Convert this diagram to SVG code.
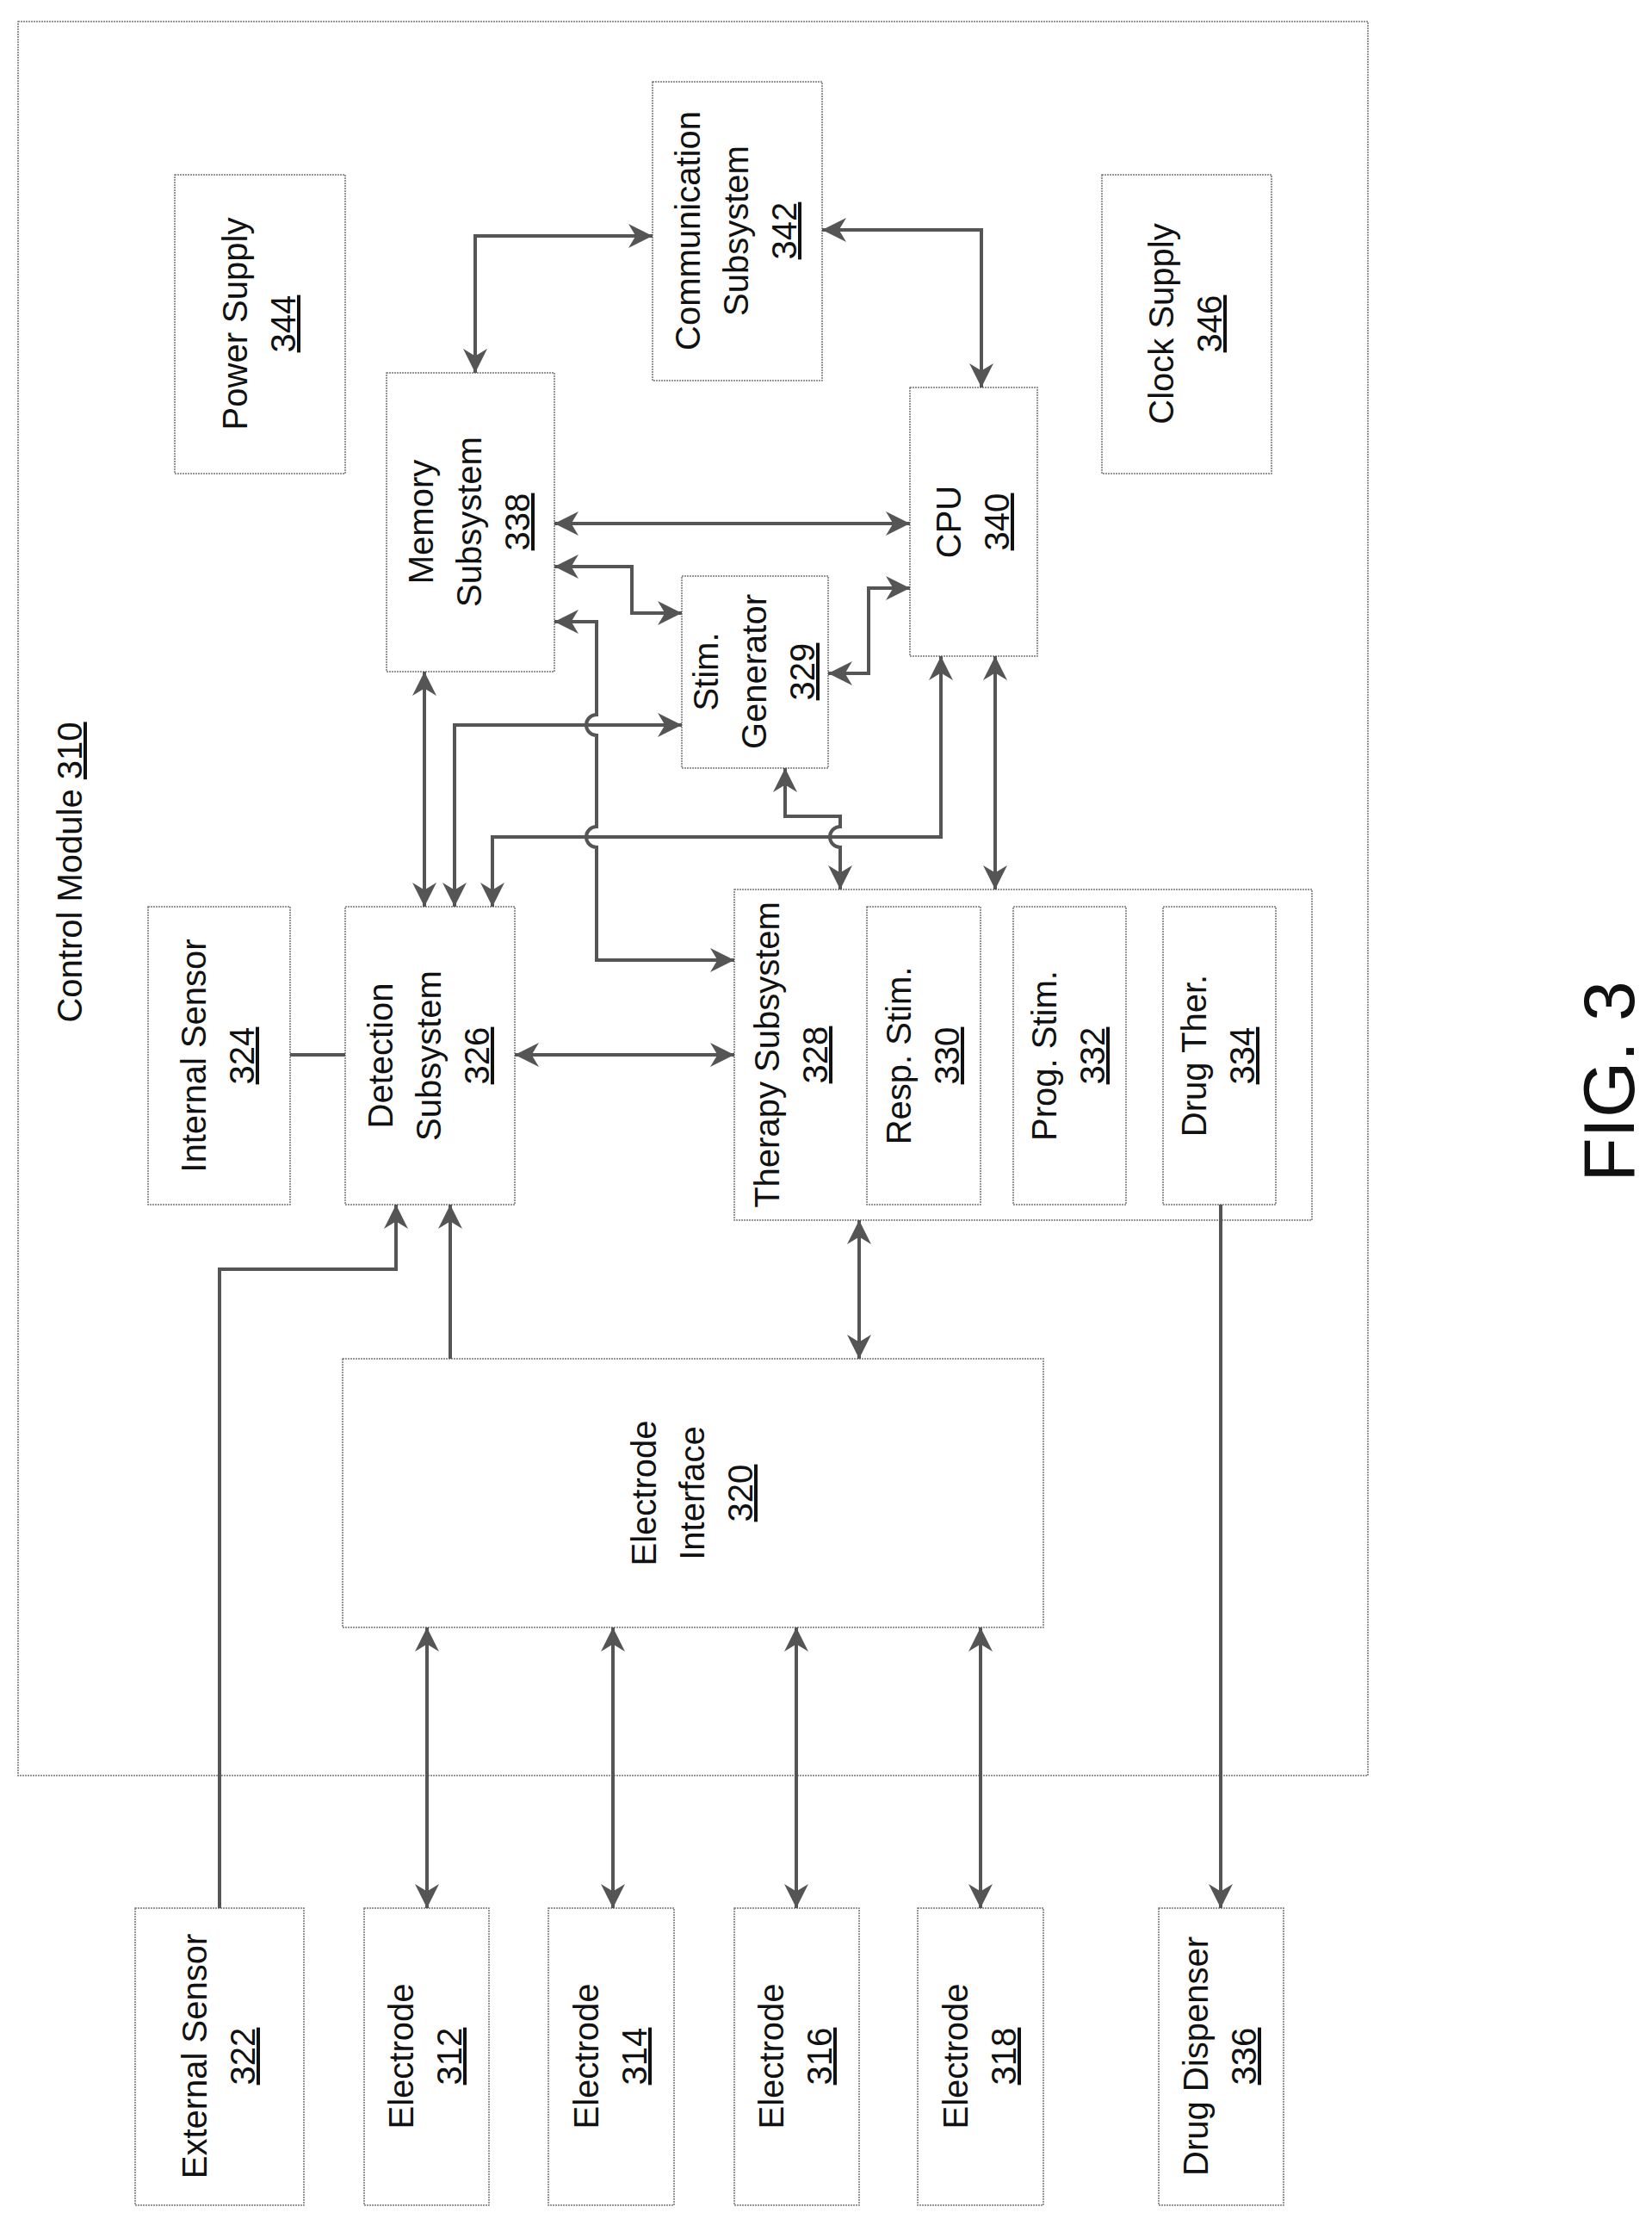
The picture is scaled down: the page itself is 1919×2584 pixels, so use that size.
<svg xmlns="http://www.w3.org/2000/svg" width="1919" height="2584" viewBox="0 0 1919 2584">
<style>
.b{fill:#fff;stroke:#777;stroke-width:1.5;stroke-dasharray:2 1}
.t{font-family:"Liberation Sans",Arial,sans-serif;font-size:40px;fill:#111;text-anchor:middle}
.u{text-decoration:underline}
.c{fill:none;stroke:#555;stroke-width:4}
.a{marker-end:url(#ah)}
.d{marker-start:url(#ah);marker-end:url(#ah)}
</style>
<defs>
<marker id="ah" viewBox="0 0 10 10" refX="10" refY="5" markerWidth="7" markerHeight="7" markerUnits="strokeWidth" orient="auto-start-reverse">
<path d="M0,0 L10,5 L0,10 L3,5 z" fill="#555"/>
</marker>
</defs>
<rect width="1919" height="2584" fill="#fff"/>
<g id="control-module">
<rect class="b" x="21" y="25" width="1568" height="2037"/>
<text class="t" transform="translate(95,1013) rotate(-90)">Control Module <tspan class="u">310</tspan></text>
</g>
<g id="power-supply"><rect class="b" x="203" y="203" width="198" height="347"/>
<text class="t" transform="translate(302,376) rotate(-90)"><tspan x="0" y="-15">Power Supply</tspan><tspan x="0" y="41" class="u">344</tspan></text></g>
<g id="communication"><rect class="b" x="758" y="95" width="197" height="347"/>
<text class="t" transform="translate(856,268) rotate(-90)"><tspan x="0" y="-43">Communication</tspan><tspan x="0" y="13">Subsystem</tspan><tspan x="0" y="69" class="u">342</tspan></text></g>
<g id="clock-supply"><rect class="b" x="1280" y="203" width="197" height="347"/>
<text class="t" transform="translate(1378,376) rotate(-90)"><tspan x="0" y="-15">Clock Supply</tspan><tspan x="0" y="41" class="u">346</tspan></text></g>
<g id="memory"><rect class="b" x="449" y="433" width="195" height="347"/>
<text class="t" transform="translate(546,606) rotate(-90)"><tspan x="0" y="-43">Memory</tspan><tspan x="0" y="13">Subsystem</tspan><tspan x="0" y="69" class="u">338</tspan></text></g>
<g id="cpu"><rect class="b" x="1057" y="450" width="148" height="312"/>
<text class="t" transform="translate(1131,606) rotate(-90)"><tspan x="0" y="-15">CPU</tspan><tspan x="0" y="41" class="u">340</tspan></text></g>
<g id="stim-generator"><rect class="b" x="792" y="669" width="170" height="223"/>
<text class="t" transform="translate(877,780) rotate(-90)"><tspan x="0" y="-43">Stim.</tspan><tspan x="0" y="13">Generator</tspan><tspan x="0" y="69" class="u">329</tspan></text></g>
<g id="internal-sensor"><rect class="b" x="172" y="1053" width="165" height="346"/>
<text class="t" transform="translate(254,1226) rotate(-90)"><tspan x="0" y="-15">Internal Sensor</tspan><tspan x="0" y="41" class="u">324</tspan></text></g>
<g id="detection"><rect class="b" x="401" y="1053" width="197" height="346"/>
<text class="t" transform="translate(499,1226) rotate(-90)"><tspan x="0" y="-43">Detection</tspan><tspan x="0" y="13">Subsystem</tspan><tspan x="0" y="69" class="u">326</tspan></text></g>
<g id="therapy"><rect class="b" x="853" y="1033" width="671" height="384"/>
<text class="t" transform="translate(920,1225) rotate(-90)"><tspan x="0" y="-15">Therapy Subsystem</tspan><tspan x="0" y="41" class="u">328</tspan></text></g>
<g id="resp-stim"><rect class="b" x="1007" y="1053" width="132" height="346"/>
<text class="t" transform="translate(1073,1226) rotate(-90)"><tspan x="0" y="-15">Resp. Stim.</tspan><tspan x="0" y="41" class="u">330</tspan></text></g>
<g id="prog-stim"><rect class="b" x="1177" y="1053" width="131" height="346"/>
<text class="t" transform="translate(1242,1226) rotate(-90)"><tspan x="0" y="-15">Prog. Stim.</tspan><tspan x="0" y="41" class="u">332</tspan></text></g>
<g id="drug-ther"><rect class="b" x="1351" y="1053" width="131" height="346"/>
<text class="t" transform="translate(1416,1226) rotate(-90)"><tspan x="0" y="-15">Drug Ther.</tspan><tspan x="0" y="41" class="u">334</tspan></text></g>
<g id="electrode-interface"><rect class="b" x="398" y="1578" width="814" height="312"/>
<text class="t" transform="translate(805,1734) rotate(-90)"><tspan x="0" y="-43">Electrode</tspan><tspan x="0" y="13">Interface</tspan><tspan x="0" y="69" class="u">320</tspan></text></g>
<g id="external-sensor"><rect class="b" x="157" y="2216" width="196" height="345"/>
<text class="t" transform="translate(255,2388) rotate(-90)"><tspan x="0" y="-15">External Sensor</tspan><tspan x="0" y="41" class="u">322</tspan></text></g>
<g id="electrode-312"><rect class="b" x="423" y="2216" width="145" height="345"/>
<text class="t" transform="translate(495,2388) rotate(-90)"><tspan x="0" y="-15">Electrode</tspan><tspan x="0" y="41" class="u">312</tspan></text></g>
<g id="electrode-314"><rect class="b" x="637" y="2216" width="146" height="345"/>
<text class="t" transform="translate(710,2388) rotate(-90)"><tspan x="0" y="-15">Electrode</tspan><tspan x="0" y="41" class="u">314</tspan></text></g>
<g id="electrode-316"><rect class="b" x="853" y="2216" width="145" height="345"/>
<text class="t" transform="translate(925,2388) rotate(-90)"><tspan x="0" y="-15">Electrode</tspan><tspan x="0" y="41" class="u">316</tspan></text></g>
<g id="electrode-318"><rect class="b" x="1066" y="2216" width="146" height="345"/>
<text class="t" transform="translate(1139,2388) rotate(-90)"><tspan x="0" y="-15">Electrode</tspan><tspan x="0" y="41" class="u">318</tspan></text></g>
<g id="drug-dispenser"><rect class="b" x="1346" y="2216" width="145" height="345"/>
<text class="t" transform="translate(1418,2388) rotate(-90)"><tspan x="0" y="-15">Drug Dispenser</tspan><tspan x="0" y="41" class="u">336</tspan></text></g>
<g id="fig-label"><text transform="translate(1898,1256) rotate(-90)" style="font-family:'Liberation Sans',Arial,sans-serif;font-size:84px;fill:#111;text-anchor:middle">FIG. 3</text></g>
<g id="connectors">
<path class="c d" d="M552,433 V274 H758"/>
<path class="c d" d="M955,267 H1140 V450"/>
<path class="c d" d="M644,608 H1057"/>
<path class="c d" d="M644,658 H734 V712 H792"/>
<path class="c d" d="M1057,683 H1009 V782 H962"/>
<path class="c d" d="M644,722 H693 V830 A12,12 0 0 0 693,854 V960 A12,12 0 0 0 693,984 V1115 H853"/>
<path class="c d" d="M493,780 V1053"/>
<path class="c d" d="M528,1053 V842 H792"/>
<path class="c d" d="M1093,762 V972 H572 V1053"/>
<path class="c d" d="M912,892 V948 H976 V960 A12,12 0 0 0 976,984 V1033"/>
<path class="c d" d="M1156,762 V1033"/>
<path class="c" d="M337,1225 H401"/>
<path class="c d" d="M598,1225 H853"/>
<path class="c a" d="M255,2216 V1474 H460 V1399"/>
<path class="c a" d="M523,1578 V1399"/>
<path class="c d" d="M998,1417 V1578"/>
<path class="c d" d="M496,1890 V2216"/>
<path class="c d" d="M712,1890 V2216"/>
<path class="c d" d="M925,1890 V2216"/>
<path class="c d" d="M1139,1890 V2216"/>
<path class="c a" d="M1418,1399 V2216"/>
</g>
</svg>
